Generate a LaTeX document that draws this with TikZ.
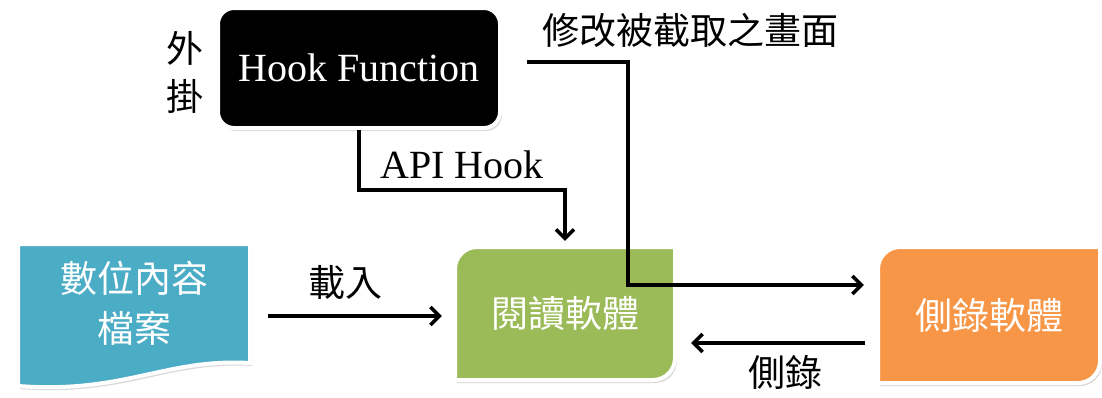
\documentclass[tikz,border=0pt]{standalone}
\usepackage{fontspec}
\setmainfont{Liberation Serif}
\newfontfamily\cjk{Noto Sans CJK TC}
\usetikzlibrary{arrows.meta,shadows}
\definecolor{docblue}{HTML}{4BACC6}
\definecolor{readgreen}{HTML}{9BBB59}
\definecolor{recorange}{HTML}{F79646}
\begin{document}
\begin{tikzpicture}[x=1pt,y=-1pt,
  conn/.style={line width=3.5pt, -{Straight Barb[length=9pt,width=18pt]}},
  plate/.style={draw=white, line width=4pt,
    drop shadow={opacity=0.3, shadow xshift=2pt, shadow yshift=-3pt}},
  cjkfont/.style={font=\cjk\fontsize{37}{44}\selectfont},
  latinfont/.style={font=\fontsize{40}{44}\selectfont},
  boxlabel/.style={cjkfont, text=white, align=center, inner sep=0pt}]
\useasboundingbox (0,0) rectangle (1102,397);

% hook function box
\node[plate, fill=black, rounded corners=16pt, minimum width=282pt,
  minimum height=120pt, text=white, latinfont] (hook) at (359,68) {Hook Function};
\node[cjkfont, align=center, inner sep=0pt] (plug) at (185,72)
  {外\\[4pt]掛};

% document shape with wavy bottom
\fill[docblue, plate] (18,244) -- (250,244) -- (250,363)
  .. controls (165,358) and (125,394) .. (18,386) -- cycle;
\node[boxlabel, minimum width=232pt, minimum height=119pt] (doc) at (134,303.5)
  {數位內容\\[6pt]檔案};

% reader box: rounded top-left and bottom-right corners
\fill[readgreen, plate] (455,380) -- (455,269)
  .. controls (455,256.9) and (464.9,247) .. (477,247) -- (675,247) -- (675,358)
  .. controls (675,370.1) and (665.1,380) .. (653,380) -- cycle;
\node[boxlabel, minimum width=220pt, minimum height=133pt] (read) at (565,313.5)
  {閱讀軟體};

% recorder box: rounded top-left and bottom-right corners
\fill[recorange, plate] (878,383) -- (878,269)
  .. controls (878,256.9) and (887.9,247) .. (900,247) -- (1100,247) -- (1100,361)
  .. controls (1100,373.1) and (1090.1,383) .. (1078,383) -- cycle;
\node[boxlabel, minimum width=222pt, minimum height=136pt] (rec) at (989,315)
  {側錄軟體};

% connectors
\draw[conn, shorten >=6pt] (hook.south) -- ++(0,60) -| (read.north);
\node[latinfont, inner sep=0pt] (apilbl) at (462,165) {API Hook};

\coordinate (capfrom) at (527,62);
\draw[conn, shorten >=14pt] (capfrom) -- (628,62) |- ([yshift=30pt]rec.west);
\node[cjkfont, inner sep=0pt] (caplbl) at (690,30) {修改被截取之畫面};

\coordinate (loadfrom) at (268,316);
\draw[conn, shorten >=13pt] (loadfrom) -- (loadfrom -| read.west);
\node[cjkfont, inner sep=0pt] (loadlbl) at (345,282) {載入};

\draw[conn, shorten <=13pt, shorten >=16pt] ([yshift=-28pt]rec.west)
  -- ([yshift=-28pt]rec.west -| read.east);
\node[cjkfont, inner sep=0pt] (reclbl) at (785,372) {側錄};
\end{tikzpicture}
\end{document}
